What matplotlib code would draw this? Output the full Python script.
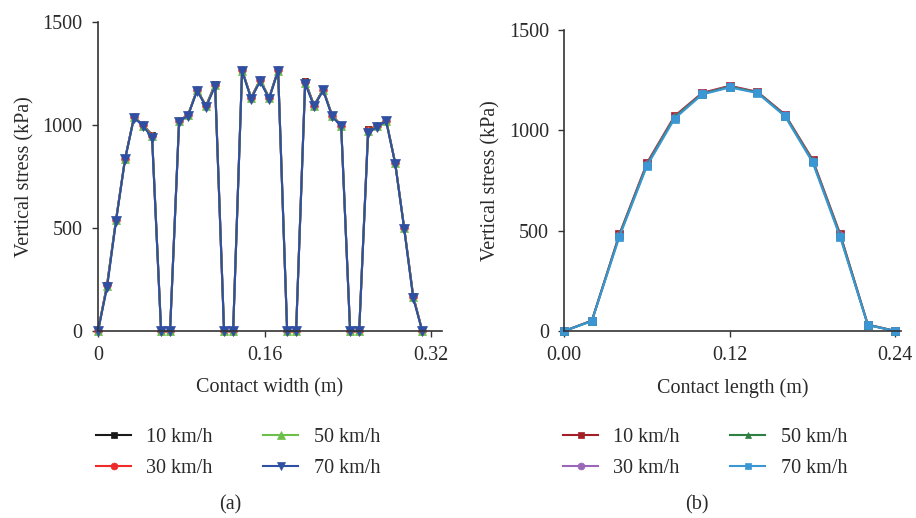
import matplotlib
matplotlib.use('Agg')
import matplotlib.pyplot as plt

plt.rcParams['font.family'] = ['Liberation Serif', 'DejaVu Serif']
plt.rcParams['font.size'] = 14.5

# (a) contact width
width_x = [0.0, 0.0087, 0.0173, 0.026, 0.0346, 0.0433, 0.0519, 0.0606, 0.0692,
           0.0779, 0.0865, 0.0952, 0.1038, 0.1125, 0.1211, 0.1298, 0.1384, 0.1471,
           0.1557, 0.1644, 0.173, 0.1817, 0.1903, 0.199, 0.2076, 0.2163, 0.2249,
           0.2336, 0.2422, 0.2509, 0.2595, 0.2682, 0.2768, 0.2855, 0.2941, 0.3028,
           0.3115]
stress_a_10 = [0, 225, 540, 836, 1038, 998, 952, 0, 0, 1020, 1048, 1170, 1092, 1198,
               0, 0, 1266, 1132, 1218, 1132, 1266, 0, 0, 1212, 1094, 1172, 1046, 998,
               0, 0, 978, 994, 1022, 815, 502, 170, 0]
stress_a_30 = [0, 222, 538, 835, 1037, 997, 948, 0, 0, 1019, 1047, 1169, 1090, 1195,
               0, 0, 1264, 1130, 1216, 1130, 1264, 0, 0, 1208, 1093, 1170, 1044, 996,
               0, 0, 974, 993, 1021, 814, 500, 167, 0]
stress_a_50 = [0, 218, 536, 834, 1036, 996, 944, 0, 0, 1018, 1046, 1168, 1089, 1192,
               0, 0, 1263, 1129, 1214, 1129, 1263, 0, 0, 1205, 1092, 1169, 1043, 995,
               0, 0, 968, 992, 1020, 814, 499, 165, 0]
stress_a_70 = [0, 212, 533, 833, 1035, 995, 938, 0, 0, 1016, 1045, 1166, 1087, 1187,
               0, 0, 1261, 1127, 1211, 1127, 1261, 0, 0, 1200, 1090, 1167, 1041, 993,
               0, 0, 962, 990, 1018, 812, 497, 160, 0]

# (b) contact length
length_x = [0.0, 0.02, 0.04, 0.06, 0.08, 0.1, 0.12, 0.14, 0.16, 0.18, 0.2, 0.22, 0.24]
stress_b_10 = [0, 52, 482, 837, 1070, 1185, 1220, 1190, 1077, 853, 482, 32, 0]
stress_b_30 = [0, 51, 478, 832, 1066, 1182, 1217, 1188, 1074, 848, 477, 31, 0]
stress_b_50 = [0, 50, 476, 828, 1063, 1180, 1215, 1187, 1072, 845, 473, 30, 0]
stress_b_70 = [0, 49, 470, 822, 1057, 1177, 1212, 1184, 1068, 839, 466, 29, 0]

labels = ['10 km/h', '30 km/h', '50 km/h', '70 km/h']

fig = plt.figure(figsize=(9.16, 5.18), dpi=100)
ax1 = fig.add_axes([0.107, 0.361, 0.375, 0.597])
ax2 = fig.add_axes([0.616, 0.361, 0.368, 0.582])

text_color = '#2a2a2a'


def style_axes(ax, xlabel):
    for side in ['top', 'right']:
        ax.spines[side].set_visible(False)
    for side in ['left', 'bottom']:
        ax.spines[side].set_color('#333333')
        ax.spines[side].set_linewidth(1.2)
    ax.tick_params(direction='out', length=4, width=1, color='#333333', labelcolor=text_color)
    ax.tick_params(axis='x', pad=7)
    ax.tick_params(axis='y', pad=7)
    ax.set_ylim(0, 1500)
    ax.set_yticks([0, 500, 1000, 1500])
    ax.set_ylabel('Vertical stress (kPa)', color=text_color, labelpad=6)
    ax.set_xlabel(xlabel, color=text_color, labelpad=9)


series_a = [stress_a_10, stress_a_30, stress_a_50, stress_a_70]
colors_a = ['#1a1a1a', '#ee2a2a', '#6cc04a', '#2f4fa2']
markers_a = ['s', 'o', '^', 'v']
sizes_a = [5, 5.5, 6, 6.5]
for ys, c, m, ms, lab in zip(series_a, colors_a, markers_a, sizes_a, labels):
    ax1.plot(width_x, ys, color=c, marker=m, markersize=ms, linewidth=1.5,
             markeredgewidth=0.5, label=lab, clip_on=False)
ax1.set_xlim(0, 0.33)
ax1.set_xticks([0, 0.16, 0.32])
ax1.set_xticklabels(['0', '0.16', '0.32'])
style_axes(ax1, 'Contact width (m)')

series_b = [stress_b_10, stress_b_30, stress_b_50, stress_b_70]
colors_b = ['#a31f28', '#9a66b8', '#2e7f42', '#3a97d4']
markers_b = ['s', 'o', '^', 's']
for ys, c, m, lab in zip(series_b, colors_b, markers_b, labels):
    ax2.plot(length_x, ys, color=c, marker=m, markersize=5.5, linewidth=1.5,
             markeredgewidth=0.5, label=lab, clip_on=False)
ax2.set_xlim(0, 0.2443)
ax2.set_xticks([0, 0.12, 0.24])
ax2.set_xticklabels(['0.00', '0.12', '0.24'])
style_axes(ax2, 'Contact length (m)')

leg_kw = dict(ncol=2, frameon=False, loc='upper left', borderpad=0, borderaxespad=0,
              handlelength=1.75, handletextpad=0.75, columnspacing=2.5, labelspacing=0.58,
              fontsize=14.5, markerscale=0.9, labelcolor=text_color)
h, l = ax1.get_legend_handles_labels()
fig.legend(h, l, bbox_to_anchor=(96 / 916, 1 - 428 / 518), **leg_kw)
h, l = ax2.get_legend_handles_labels()
fig.legend(h, l, bbox_to_anchor=(563 / 916, 1 - 428 / 518), **leg_kw)

fig.text(230 / 916, 1 - 505 / 518, '(a)', ha='center', va='center', fontsize=14.5, color=text_color)
fig.text(697 / 916, 1 - 505 / 518, '(b)', ha='center', va='center', fontsize=14.5, color=text_color)

fig.savefig('out.png', dpi=100)
